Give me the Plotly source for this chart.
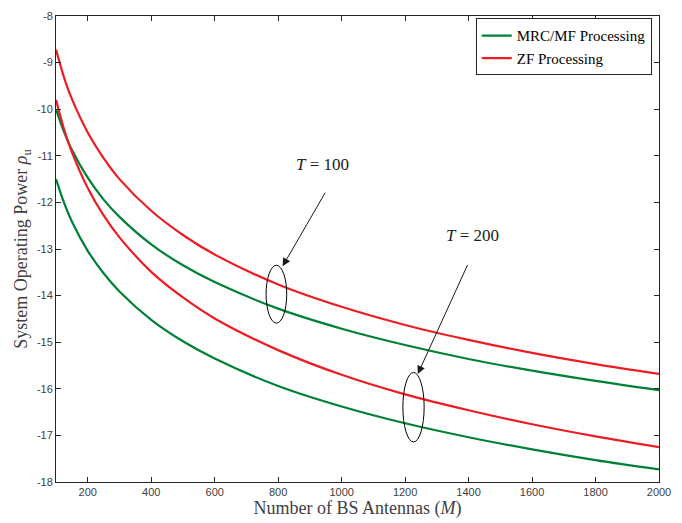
import plotly.graph_objects as go

# Number of BS antennas
M = [100, 125, 150, 200, 250, 300, 400, 500, 600, 800, 1000, 1200, 1400, 1600, 1800, 2000]

# System operating power
zf_T100 = [-8.72, -9.31, -9.78, -10.50, -11.05, -11.50, -12.18, -12.70, -13.12, -13.76,
           -14.24, -14.63, -14.95, -15.23, -15.47, -15.68]
mrc_T100 = [-10.00, -10.48, -10.87, -11.47, -11.94, -12.31, -12.90, -13.35, -13.71, -14.28,
            -14.71, -15.06, -15.36, -15.61, -15.83, -16.03]
zf_T200 = [-9.80, -10.42, -10.92, -11.69, -12.28, -12.75, -13.49, -14.04, -14.49, -15.17,
           -15.70, -16.12, -16.46, -16.76, -17.02, -17.25]
mrc_T200 = [-11.50, -12.00, -12.41, -13.04, -13.52, -13.91, -14.52, -14.98, -15.35, -15.94,
            -16.38, -16.74, -17.04, -17.30, -17.53, -17.73]

x_ticks = [200, 400, 600, 800, 1000, 1200, 1400, 1600, 1800, 2000]
y_ticks = [-18, -17, -16, -15, -14, -13, -12, -11, -10, -9, -8]
y_tick_text = ["-18", "-17", "-16", "-15", "-14", "-13", "-12", "-11", "-10", "-9", "-8"]

GREEN = "rgb(0,128,55)"
RED = "rgb(236,28,36)"
AXC = "#262626"
TXT = "#404040"

fig = go.Figure()
fig.add_trace(go.Scatter(x=M, y=mrc_T100, mode="lines", name="MRC/MF Processing",
                         line=dict(color=GREEN, width=2.2, shape="spline")))
fig.add_trace(go.Scatter(x=M, y=zf_T100, mode="lines", name="ZF Processing",
                         line=dict(color=RED, width=2.2, shape="spline")))
fig.add_trace(go.Scatter(x=M, y=mrc_T200, mode="lines", name="MRC/MF Processing",
                         line=dict(color=GREEN, width=2.2, shape="spline"), showlegend=False))
fig.add_trace(go.Scatter(x=M, y=zf_T200, mode="lines", name="ZF Processing",
                         line=dict(color=RED, width=2.2, shape="spline"), showlegend=False))

# ellipses
fig.add_shape(type="circle", xref="x", yref="y", x0=762, x1=827, y0=-14.59, y1=-13.35,
              line=dict(color="black", width=1))
fig.add_shape(type="circle", xref="x", yref="y", x0=1193, x1=1260, y0=-17.14, y1=-15.65,
              line=dict(color="black", width=1))

# arrows
fig.add_annotation(x=814, y=-13.37, ax=951, ay=-11.76, xref="x", yref="y", axref="x", ayref="y",
                   showarrow=True, arrowhead=2, arrowsize=1.6, arrowwidth=1, arrowcolor="#1a1a1a", text="")
fig.add_annotation(x=1240, y=-15.68, ax=1399, ay=-13.31, xref="x", yref="y", axref="x", ayref="y",
                   showarrow=True, arrowhead=2, arrowsize=1.6, arrowwidth=1, arrowcolor="#1a1a1a", text="")

# labels
fig.add_annotation(x=941, y=-11.19, xref="x", yref="y", text="<i>T</i> = 100", showarrow=False,
                   font=dict(family="Liberation Serif", size=17, color="#1a1a1a"))
fig.add_annotation(x=1411, y=-12.70, xref="x", yref="y", text="<i>T</i> = 200", showarrow=False,
                   font=dict(family="Liberation Serif", size=17, color="#1a1a1a"))

fig.update_layout(
    width=682, height=523,
    margin=dict(l=56, r=23, t=10, b=36),
    paper_bgcolor="white", plot_bgcolor="white",
    showlegend=True,
    legend=dict(x=0.988, y=0.995, xanchor="right", yanchor="top",
                bgcolor="white", bordercolor=AXC, borderwidth=1,
                font=dict(family="Liberation Serif", size=15, color="black"),
                tracegroupgap=0),
    xaxis=dict(range=[100, 2000], tickvals=x_ticks, ticks="inside", ticklen=5, tickcolor=AXC,
               showline=True, linecolor=AXC, linewidth=1, mirror="ticks", showgrid=False,
               zeroline=False,
               tickfont=dict(family="Liberation Sans", size=11, color=TXT),
               title=dict(text="Number of BS Antennas (<i>M</i>)", standoff=2,
                          font=dict(family="Liberation Serif", size=18, color=TXT))),
    yaxis=dict(range=[-18, -8], tickvals=y_ticks, ticktext=y_tick_text, ticks="inside", ticklen=5,
               tickcolor=AXC, showline=True, linecolor=AXC, linewidth=1, mirror="ticks",
               showgrid=False, zeroline=False,
               tickfont=dict(family="Liberation Sans", size=11, color=TXT),
               title=dict(text="System Operating Power <i>ρ</i><sub>u</sub>", standoff=4,
                          font=dict(family="Liberation Serif", size=18, color=TXT))),
)

fig.write_html("out.html")
